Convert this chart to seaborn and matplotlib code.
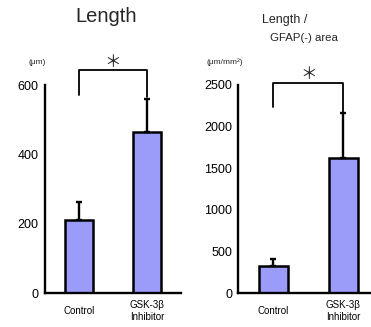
import matplotlib
matplotlib.use("Agg")
import matplotlib.pyplot as plt
import seaborn as sns
import pandas as pd

categories = ["Control", "GSK-3β\nInhibitor"]
length_mean = [210, 465]
length_err = [53, 94]
area_mean = [320, 1620]
area_err = [88, 540]

sns.set_style("white")
plt.rcParams["font.family"] = ["Liberation Sans", "DejaVu Sans"]

fig = plt.figure(figsize=(3.71, 3.27), dpi=100)
ax1 = fig.add_axes([45/371, 34/327, 136/371, 208/327])
ax2 = fig.add_axes([238.3/371, 34/327, 140/371, 208/327])

bar_color = "#9b9cf9"

def panel(ax, means, errs, ymax, yticks, bracket_y, left_end, right_end, star_y):
    df = pd.DataFrame({"cat": categories, "val": means})
    sns.barplot(data=df, x="cat", y="val", color=bar_color, edgecolor="black",
                linewidth=1.8, width=0.42, saturation=1, errorbar=None, ax=ax)
    ax.errorbar(range(len(categories)), means, yerr=[[0]*len(errs), errs],
                fmt="none", ecolor="black", elinewidth=1.7, capsize=2.5, capthick=1.7,
                zorder=3)
    ax.set_xlim(-0.5, 1.5)
    ax.set_ylim(0, ymax)
    ax.set_yticks(yticks)
    ax.set_xlabel("")
    ax.set_ylabel("")
    for s in ["top", "right"]:
        ax.spines[s].set_visible(False)
    for s in ["left", "bottom"]:
        ax.spines[s].set_linewidth(1.7)
        ax.spines[s].set_color("black")
    ax.tick_params(axis="y", direction="out", length=2.5, width=1.4, labelsize=9,
                   pad=2, colors="black")
    ax.set_xticks([0, 1])
    ax.set_xticklabels(categories, linespacing=1.15, va="center")
    ax.tick_params(axis="x", length=0, labelsize=7, pad=13, colors="black")
    ax.set_xticks([0.5], minor=True)
    ax.tick_params(axis="x", which="minor", direction="out", length=2, width=1.2)
    # significance bracket
    ax.plot([0, 0, 1, 1], [left_end, bracket_y, bracket_y, right_end], color="black",
            lw=1.3, clip_on=False)
    ax.text(0.5, star_y, "＊", ha="center", va="center", fontsize=12,
            fontfamily=["Noto Sans CJK JP", "DejaVu Sans"], clip_on=False)

panel(ax1, length_mean, length_err, 600, [0, 200, 400, 600], 643, 571, 566, 664)
panel(ax2, area_mean, area_err, 2500, [0, 500, 1000, 1500, 2000, 2500], 2520, 2240, 2170, 2630)

fig.text(106/371, 1 - 17/327, "Length", ha="center", va="center", fontsize=14.5)
fig.text(37/371, 1 - 63/327, "(μm)", ha="center", va="center", fontsize=6)
fig.text(285/371, 1 - 20/327, "Length /", ha="center", va="center", fontsize=9)
fig.text(304/371, 1 - 38/327, "GFAP(-) area", ha="center", va="center", fontsize=8.2)
fig.text(225/371, 1 - 62/327, "(μm/mm²)", ha="center", va="center", fontsize=6)

fig.savefig("out.png", dpi=100)
